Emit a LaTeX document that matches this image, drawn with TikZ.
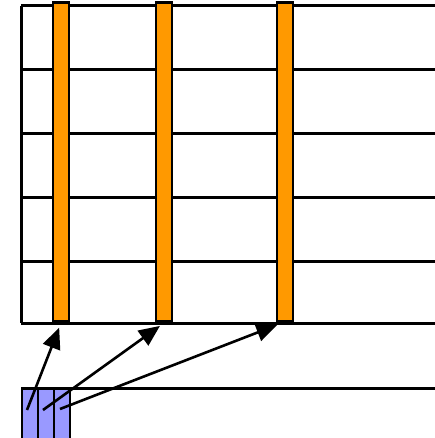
\documentclass[tikz,border=0pt]{standalone}
\usetikzlibrary{arrows.meta}
\definecolor{barorange}{HTML}{FF9900}
\definecolor{cellblue}{HTML}{9999FF}
\tikzset{
  rule/.style={line width=3pt, draw=black},
  barbox/.style={draw=black, line width=2.6pt, fill=barorange, inner sep=0pt, minimum width=16pt, minimum height=319pt, anchor=south},
  cellbox/.style={draw=black, line width=2.4pt, fill=cellblue, inner sep=0pt, minimum width=16pt, minimum height=54pt, anchor=north west},
  link/.style={line width=2.6pt, -{Triangle[length=21pt,width=18pt]}, shorten >=5pt}
}
\begin{document}
\begin{tikzpicture}[x=1pt, y=-1pt]
  \useasboundingbox (0,0) rectangle (434,438);
  % grid of horizontal rules with the left border
  \foreach \yy in {6,70,134,197,261,323}
    \draw[rule] (21,\yy) -- (436,\yy);
  \draw[rule] (21,6) -- (21,323);
  % vertical bars
  \node[barbox] (b1) at (61,323) {};
  \node[barbox] (b2) at (164,323) {};
  \node[barbox] (b3) at (285,323) {};
  % lower strip
  \draw[rule] (21,388) -- (436,388);
  \node[cellbox] (c1) at (21,388) {};
  \node[cellbox] (c2) at (37,388) {};
  \node[cellbox] (c3) at (53,388) {};
  \coordinate (s1) at (27,410);
  \coordinate (s2) at (43,410);
  \coordinate (s3) at (60,409);
  % arrows from cells to bars
  \draw[link] (s1) -- (b1.south);
  \draw[link] (s2) -- (b2.south);
  \draw[link] (s3) -- ([xshift=-3pt]b3.south);
\end{tikzpicture}
\end{document}
